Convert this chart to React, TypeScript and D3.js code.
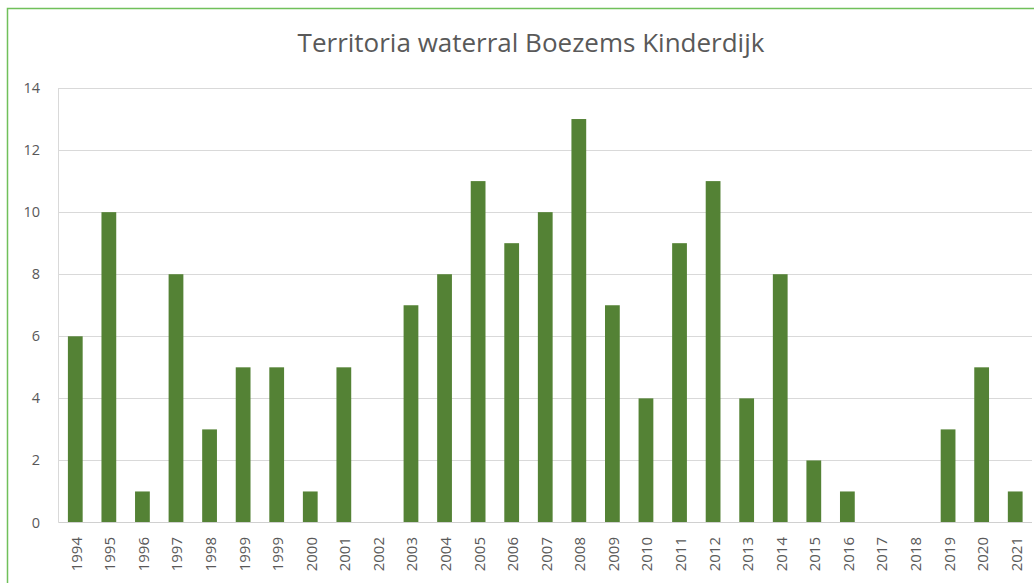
import React, { useEffect, useRef } from 'react';
import * as d3 from 'd3';

const years = [
  '1994', '1995', '1996', '1997', '1998', '1999', '1999', '2000', '2001', '2002',
  '2003', '2004', '2005', '2006', '2007', '2008', '2009', '2010', '2011', '2012',
  '2013', '2014', '2015', '2016', '2017', '2018', '2019', '2020', '2021',
];
const territories = [
  6, 10, 1, 8, 3, 5, 5, 1, 5, 0,
  7, 8, 11, 9, 10, 13, 7, 4, 9, 11,
  4, 8, 2, 1, 0, 0, 3, 5, 1,
];
const yTicks = [0, 2, 4, 6, 8, 10, 12, 14];
const title = 'Territoria waterral Boezems Kinderdijk';

const App = () => {
  const chartRef = useRef<SVGSVGElement>(null);

  useEffect(() => {
    const width = 1034;
    const height = 583;
    const left = 58.5;
    const right = 1032;
    const top = 88;
    const bottom = 522.5;

    const svg = d3.select(chartRef.current);
    svg.selectAll('*').remove();

    svg.append('rect').attr('width', width).attr('height', height).attr('fill', '#fff');

    // green chart border (only left and top visible)
    svg.append('path')
      .attr('d', `M7.5,${height} V8.5 H${width}`)
      .attr('fill', 'none')
      .attr('stroke', '#70c05a')
      .attr('stroke-width', 1.5);

    svg.append('text')
      .attr('x', 531)
      .attr('y', 52)
      .attr('text-anchor', 'middle')
      .attr('font-family', 'Open Sans, sans-serif')
      .attr('font-size', 26)
      .attr('fill', '#595959')
      .text(title);

    const x = d3.scaleBand<number>()
      .domain(d3.range(years.length))
      .range([left, right])
      .paddingInner(0.56)
      .paddingOuter(0.28);

    const y = d3.scaleLinear().domain([0, 14]).range([bottom, top]);

    // gridlines
    svg.append('g')
      .selectAll('line')
      .data(yTicks.filter(d => d > 0))
      .join('line')
      .attr('x1', left)
      .attr('x2', right)
      .attr('y1', d => Math.round(y(d)) + 0.5)
      .attr('y2', d => Math.round(y(d)) + 0.5)
      .attr('stroke', '#d9d9d9');

    svg.append('line')
      .attr('x1', left).attr('x2', left)
      .attr('y1', top).attr('y2', bottom)
      .attr('stroke', '#d9d9d9');

    svg.append('g')
      .selectAll('rect')
      .data(territories)
      .join('rect')
      .attr('x', (d, i) => x(i)!)
      .attr('width', x.bandwidth())
      .attr('y', d => y(d))
      .attr('height', d => y(0) - y(d))
      .attr('fill', '#548235');

    // baseline
    svg.append('line')
      .attr('x1', left).attr('x2', right)
      .attr('y1', bottom).attr('y2', bottom)
      .attr('stroke', '#d0d0d0');

    // y labels
    svg.append('g')
      .selectAll('text')
      .data(yTicks)
      .join('text')
      .attr('x', 40)
      .attr('y', d => y(d) + 5)
      .attr('text-anchor', 'end')
      .attr('font-family', 'Open Sans, sans-serif')
      .attr('font-size', 14.5)
      .attr('fill', '#595959')
      .text(d => d);

    // x labels
    svg.append('g')
      .selectAll('text')
      .data(years)
      .join('text')
      .attr('transform', (d, i) => `translate(${x(i)! + x.bandwidth() / 2 + 6.5},537) rotate(-90)`)
      .attr('text-anchor', 'end')
      .attr('font-family', 'Open Sans, sans-serif')
      .attr('font-size', 15)
      .attr('fill', '#595959')
      .text(d => d);
  }, []);

  return (
    <svg
      ref={chartRef}
      width={1034}
      height={583}
      style={{ position: 'absolute', left: 0, top: 0 }}
    />
  );
};

export default App;
